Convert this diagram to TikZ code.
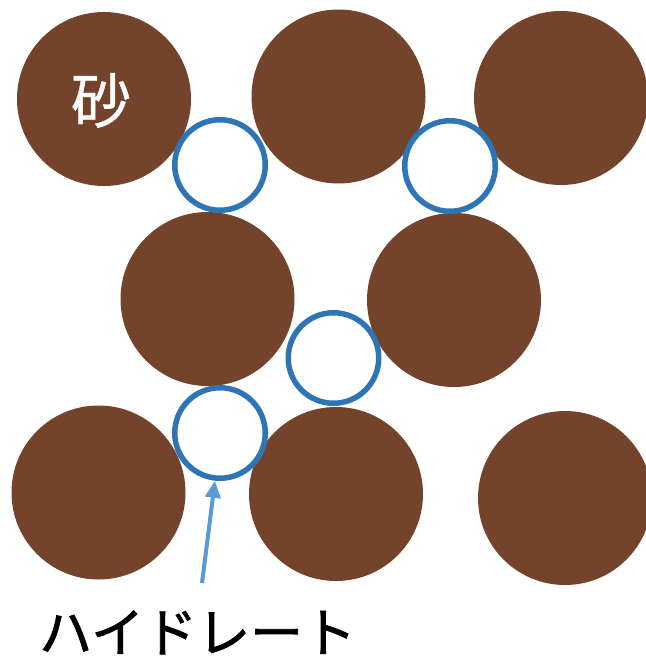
\documentclass[tikz,border=0pt]{standalone}
\usepackage{fontspec}
\newfontfamily\jpfont[FakeBold=1.6]{Noto Sans CJK JP}
\newfontfamily\jpfontlight[FakeBold=0.7]{Noto Sans CJK JP}
\usetikzlibrary{arrows.meta}
\definecolor{sand}{HTML}{74432B}
\definecolor{hydblue}{HTML}{2E75B6}
\definecolor{arrowblue}{HTML}{5B9BD5}
\tikzset{
  sandgrain/.style={circle, fill=sand, draw=none, minimum size=174pt, inner sep=0pt},
  hydrate/.style={circle, draw=hydblue, line width=5.5pt, fill=white, minimum size=90.5pt, inner sep=0pt},
  pointer/.style={draw=arrowblue, line width=4pt, -{Triangle[width=15pt,length=17pt]}}
}
\begin{document}
\begin{tikzpicture}[x=1pt,y=-1pt]
\useasboundingbox (0,0) rectangle (645,660);
\node[sandgrain] (s1) at (104,99) {};
\node[sandgrain] (s2) at (338.5,96.5) {};
\node[sandgrain] (s3) at (561,98) {};
\node[sandgrain] (s4) at (207.5,299) {};
\node[sandgrain] (s5) at (454,300) {};
\node[sandgrain] (s6) at (98.5,492.5) {};
\node[sandgrain] (s7) at (336,494) {};
\node[sandgrain] (s8) at (565,498) {};
\node[hydrate] (h1) at (220,165) {};
\node[hydrate] (h2) at (450,166) {};
\node[hydrate] (h3) at (333.5,358) {};
\node[hydrate] (h4) at (220,433) {};
\node[anchor=base, text=white, font=\jpfontlight\fontsize{60pt}{62pt}\selectfont, inner sep=0pt] (sandlabel) at (101,123) {砂};
\node[anchor=base west, text=black, font=\jpfont\fontsize{53pt}{56pt}\selectfont, inner sep=0pt] (hydlabel) at (39,652) {ハイドレート};
\coordinate (tail) at (202,583);
\draw[pointer] (tail) -- (h4.-96);
\end{tikzpicture}
\end{document}
